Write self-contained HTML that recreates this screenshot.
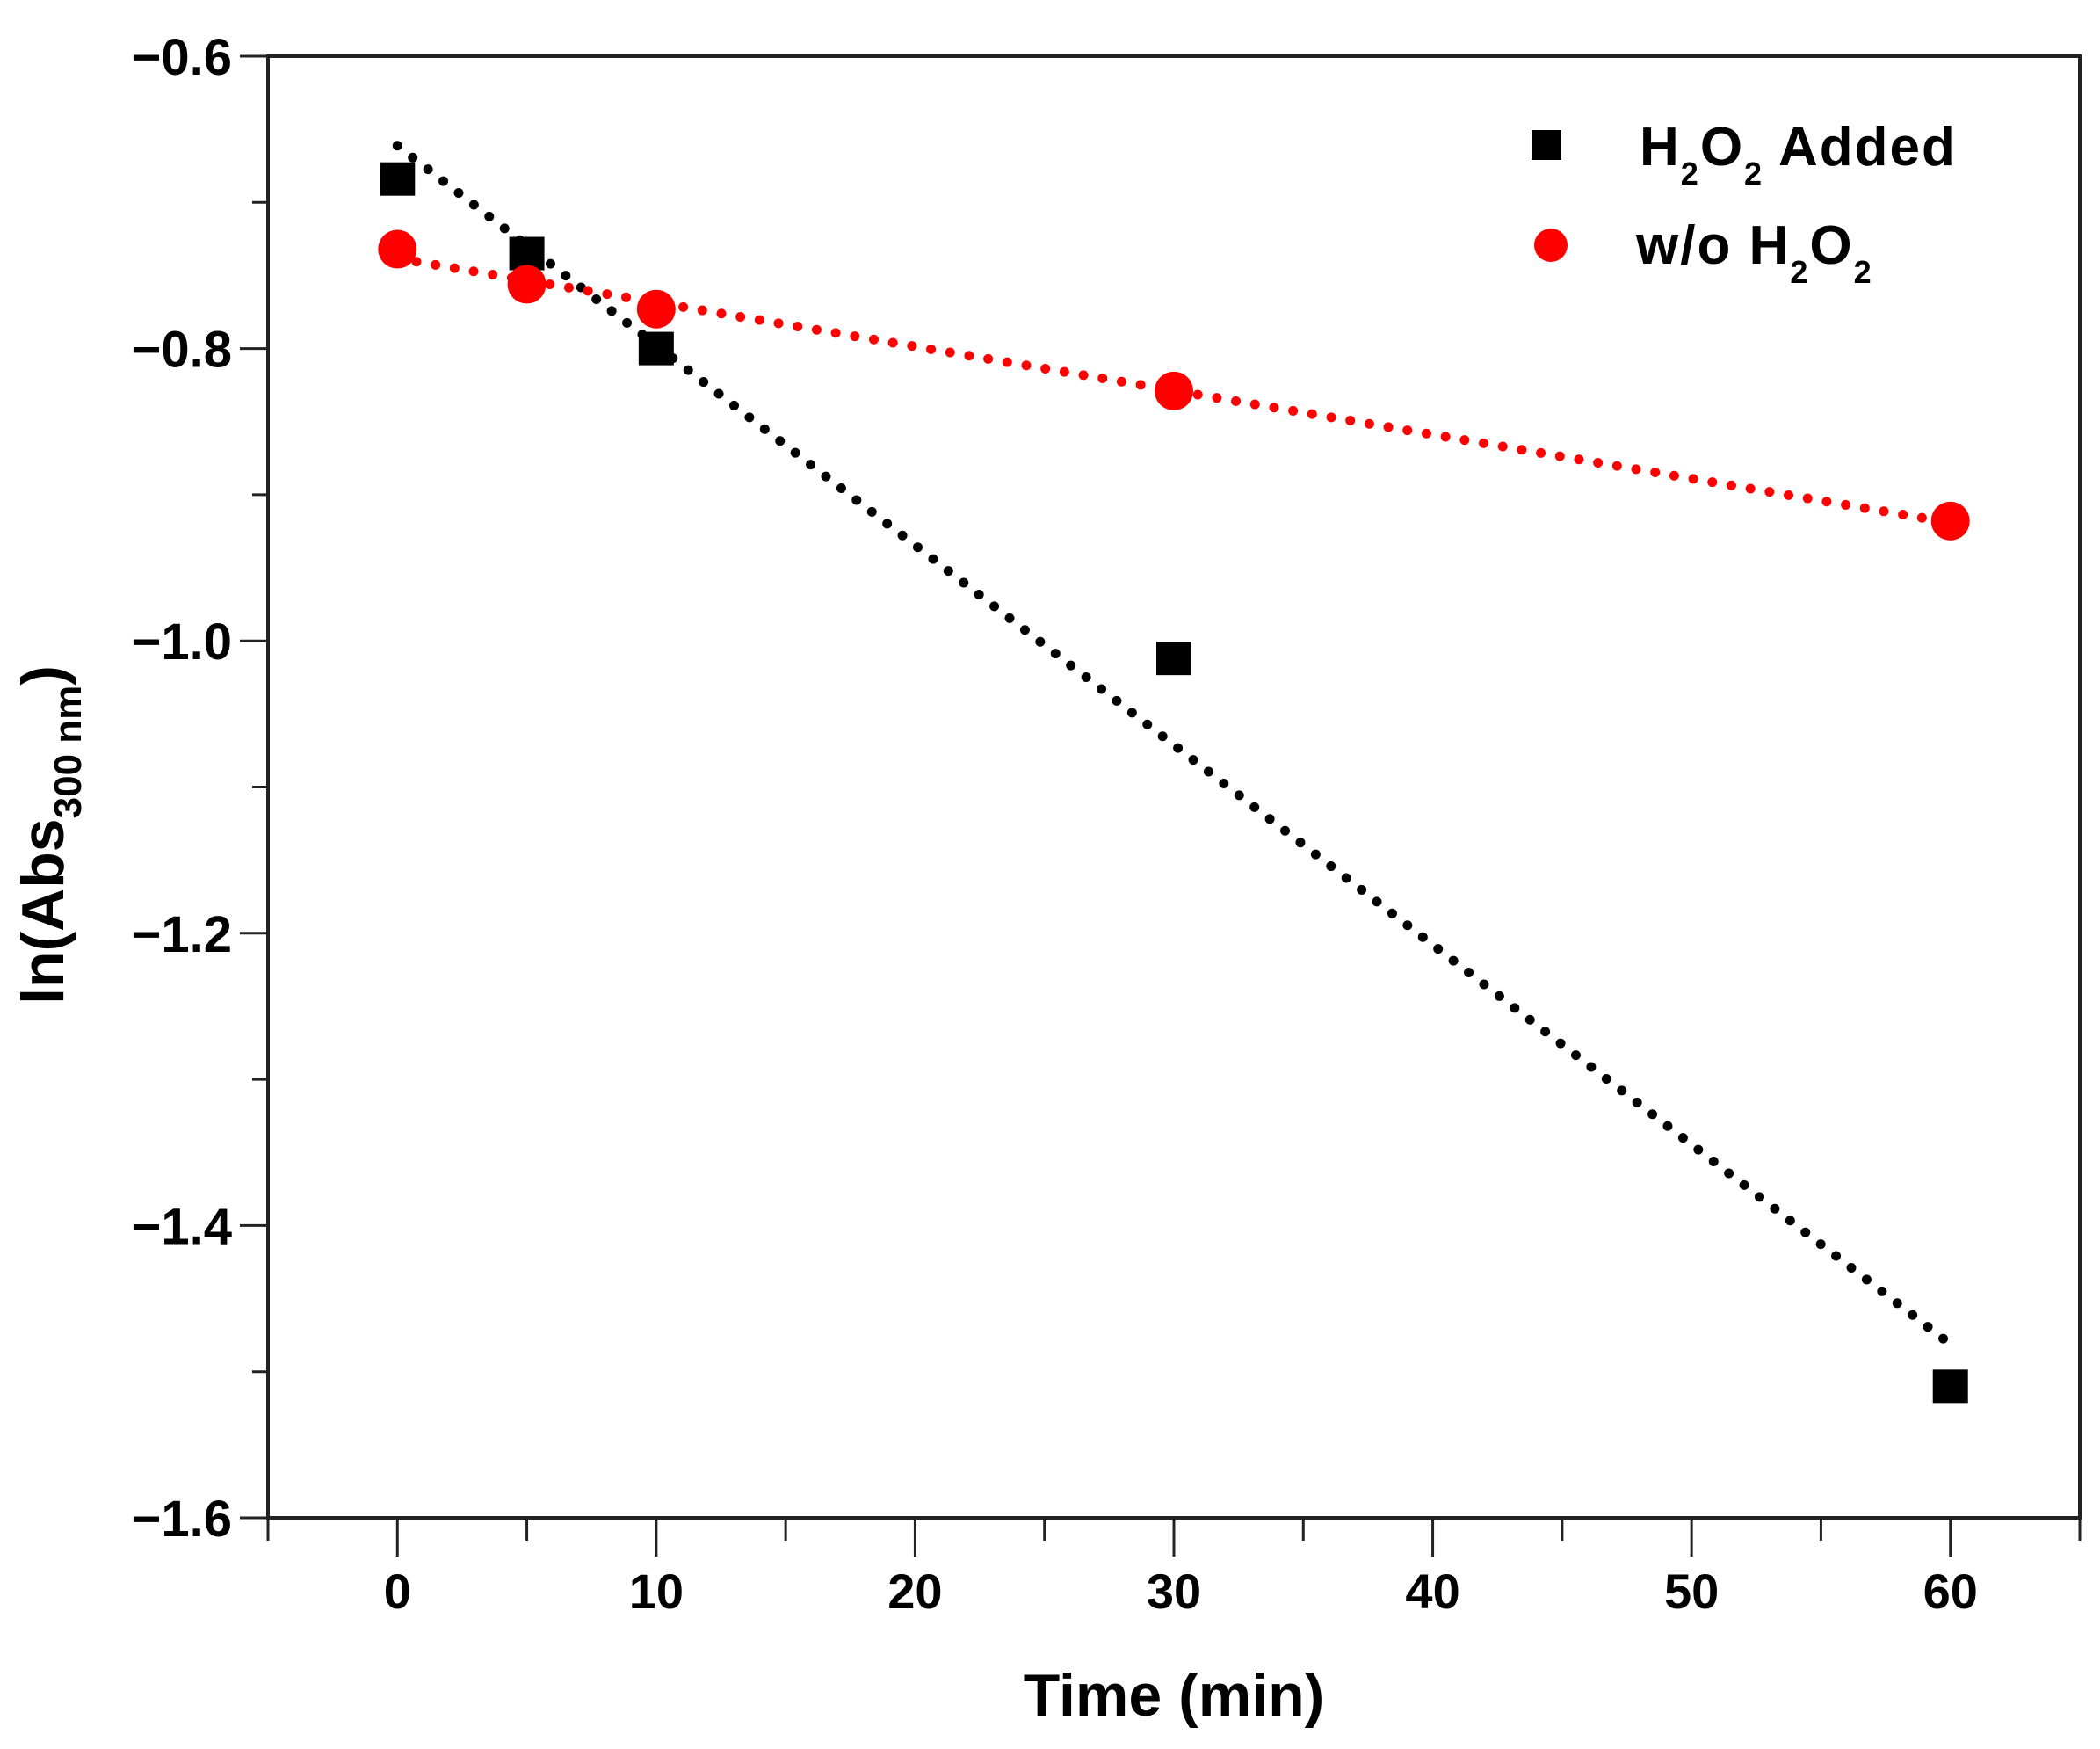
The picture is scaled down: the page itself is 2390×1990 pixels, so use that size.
<!DOCTYPE html>
<html><head><meta charset="utf-8"><style>
html,body{margin:0;padding:0;background:#fff;}
svg{display:block;font-family:"Liberation Sans",Arial,sans-serif;}
</style></head><body>
<svg id="chart" width="2390" height="1990" viewBox="0 0 2390 1990" xmlns="http://www.w3.org/2000/svg">
<g id="grid-layer"></g>
<g id="lines"></g>
<g id="marks"></g>
<text x="1336" y="1952" font-size="68" font-weight="bold" text-anchor="middle">Time (min)</text>
<text transform="translate(72,950) rotate(-90)" font-size="68" font-weight="bold" text-anchor="middle">ln(Abs<tspan font-size="44" dy="20">300 nm</tspan><tspan dy="-20">)</tspan></text>
<g>
<rect x="1743" y="148" width="34" height="34" fill="#000"/>
<text x="1866" y="188" font-size="62" font-weight="bold" letter-spacing="2">H<tspan font-size="36" dy="22">2</tspan><tspan dy="-22">O</tspan><tspan font-size="36" dy="22">2</tspan><tspan dy="-22"> Added</tspan></text>
<circle cx="1765" cy="279" r="19" fill="#f00"/>
<text x="1862" y="300" font-size="62" font-weight="bold" letter-spacing="2">w/o H<tspan font-size="36" dy="22">2</tspan><tspan dy="-22">O</tspan><tspan font-size="36" dy="22">2</tspan></text>
</g>
</svg>
<script>
const times = [0, 5, 10, 30, 60];
const h2o2Added = [-0.684, -0.735, -0.800, -1.012, -1.510];
const withoutH2o2 = [-0.732, -0.756, -0.773, -0.829, -0.918];
const xTicks = [0, 10, 20, 30, 40, 50, 60];
const yTicks = [-0.6, -0.8, -1.0, -1.2, -1.4, -1.6];

const NS = 'http://www.w3.org/2000/svg';
const L = 305, R = 2367, T = 64, B = 1727;
const xMin = -5, xMax = 65, yMax = -0.6, yMin = -1.6;
function sx(v){ return L + (v - xMin) / (xMax - xMin) * (R - L); }
function sy(v){ return T + (yMax - v) / (yMax - yMin) * (B - T); }
function mk(tag, attrs, parent){ const e = document.createElementNS(NS, tag); for (const k in attrs) e.setAttribute(k, attrs[k]); parent.appendChild(e); return e; }

const ax = document.getElementById('grid-layer');
const frame = mk('rect', {x:L, y:T, width:R-L, height:B-T, fill:'none', stroke:'#222', 'stroke-width':4}, ax);


for (let v = -5; v <= 65; v += 5) {
  const major = v % 10 === 0;
  const t = mk('line', {x1:sx(v), x2:sx(v), y1:B, y2:B + (major ? 44 : 26), stroke:'#222', 'stroke-width':3}, ax);
  
  
}
xTicks.forEach(v => {
  const t = mk('text', {x:sx(v), y:1830, 'font-size':56, 'font-weight':'bold', 'text-anchor':'middle'}, ax);
  t.textContent = String(v);
  
  
});
for (let i = 0; i <= 10; i++) {
  const v = -0.6 - i * 0.1;
  const major = i % 2 === 0;
  const t = mk('line', {x1:L - (major ? 32 : 18), x2:L, y1:sy(v), y2:sy(v), stroke:'#222', 'stroke-width':3}, ax);
  
  
}
yTicks.forEach(v => {
  const t = mk('text', {x:264, y:sy(v) + 21, 'font-size':58, 'font-weight':'bold', 'text-anchor':'end'}, ax);
  t.textContent = '\u2212' + Math.abs(v).toFixed(1);
  
  
});

function fit(xs, ys){
  const n = xs.length, mx = xs.reduce((a,b)=>a+b)/n, my = ys.reduce((a,b)=>a+b)/n;
  let sxy = 0, sxx = 0;
  for (let i = 0; i < n; i++){ sxy += (xs[i]-mx)*(ys[i]-my); sxx += (xs[i]-mx)*(xs[i]-mx); }
  const m = sxy / sxx; return [m, my - m*mx];
}
const lines = document.getElementById('lines');
[[h2o2Added, '#000', 'fit-line-h2o2-added'], [withoutH2o2, '#f00', 'fit-line-wo-h2o2']].forEach(([ys, c, name]) => {
  const [m, b] = fit(times, ys);
  const x0 = times[0], x1 = times[times.length-1];
  const l = mk('line', {x1:sx(x0), y1:sy(m*x0+b), x2:sx(x1), y2:sy(m*x1+b), stroke:c, 'stroke-width':11, 'stroke-dasharray':'0 22', 'stroke-linecap':'round'}, lines);
  
  
});
const marks = document.getElementById('marks');
times.forEach((t, i) => {
  const s = mk('rect', {x:sx(t)-20, y:sy(h2o2Added[i])-19, width:40, height:38, fill:'#000'}, marks);
  
  
});
times.forEach((t, i) => {
  const c = mk('circle', {cx:sx(t), cy:sy(withoutH2o2[i]), r:22, fill:'#f00'}, marks);
  
  
});
</script>
</body></html>
